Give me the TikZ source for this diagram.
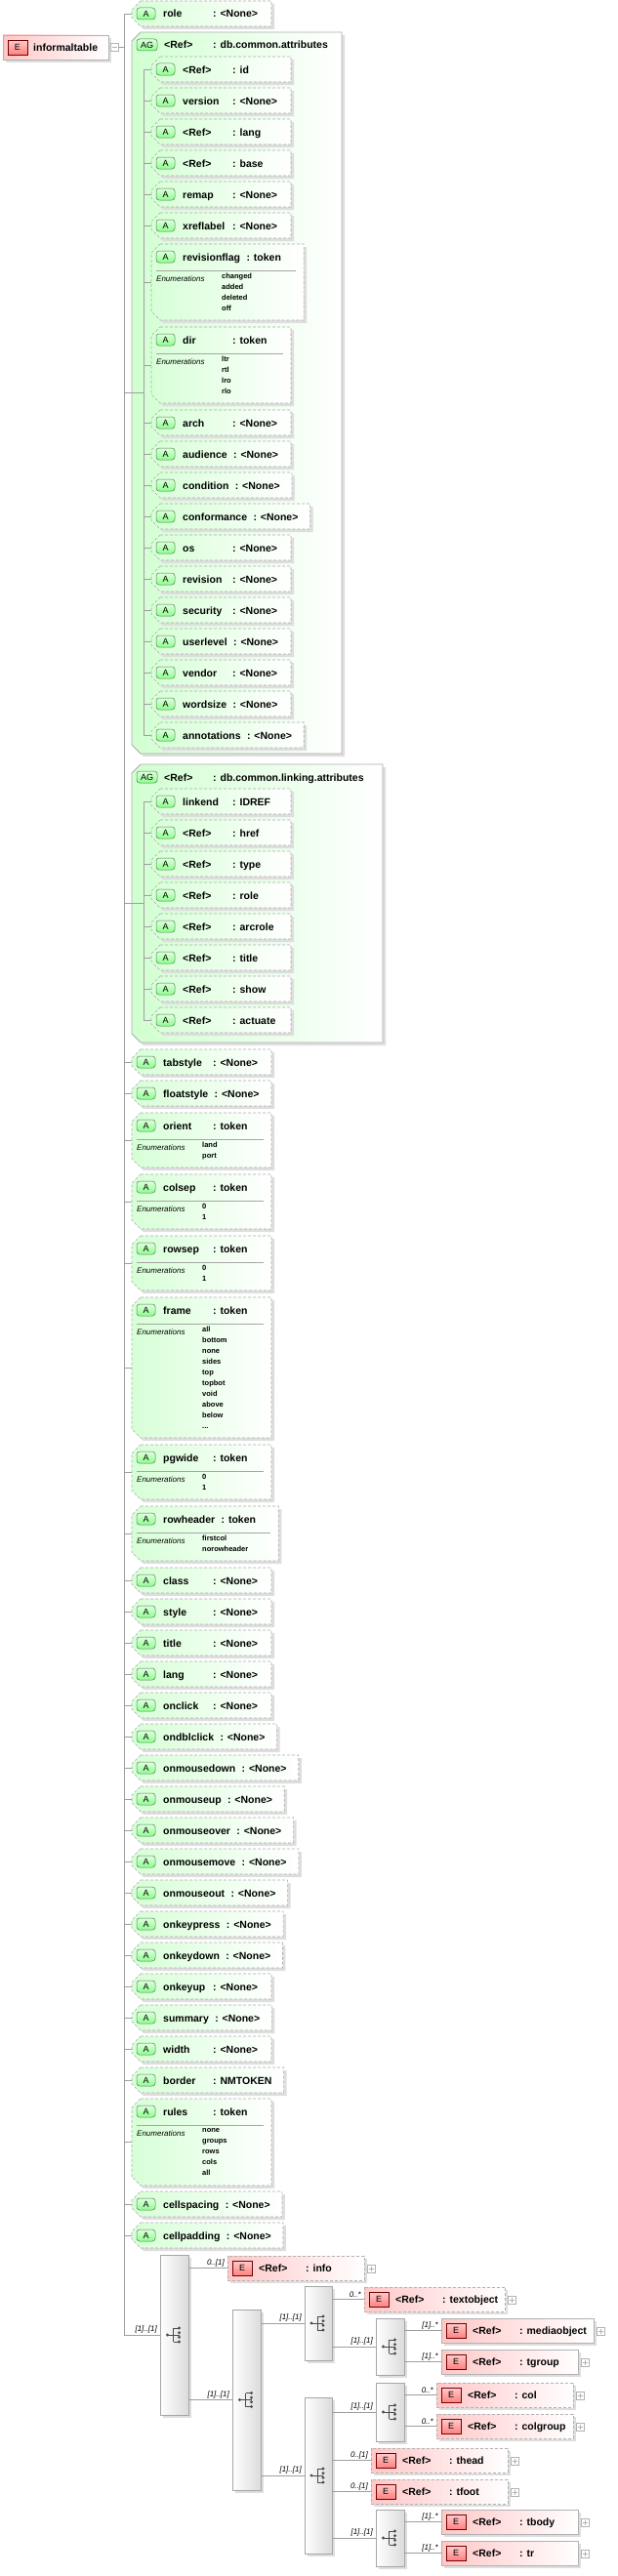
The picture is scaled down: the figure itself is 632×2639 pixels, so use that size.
\documentclass[tikz,border=0pt]{standalone}
\usepackage{fontspec}
\setmainfont{Liberation Sans}
\usetikzlibrary{calc}
\pgfdeclarelayer{bg}
\pgfsetlayers{bg,main}
\begin{document}
\newcounter{bx}
\newcommand\nf{\fontsize{10.5}{12}\selectfont\bfseries}
\newcommand\vf{\fontsize{7.5}{11}\selectfont\bfseries}
\newcommand\lf{\fontsize{8}{10}\selectfont\itshape}
\newcommand\cf{\fontsize{8}{10}\selectfont\itshape}
\tikzset{
 conn/.style={draw=gray!75, line width=0.7pt},
 shad/.style={fill=black!13},
 abox/.style={left color=green!16, right color=white, draw=gray!65, dash pattern=on 3pt off 2pt, line width=0.6pt},
 agbox/.style={left color=green!18, right color=white, draw=gray!65, line width=0.8pt},
 abadge/.style={top color=green!12, bottom color=green!45, draw=green!30!black!70, rounded corners=3pt, line width=0.5pt},
 ebox/.style={left color=red!22, right color=white, draw=gray!60, line width=0.7pt},
 eopt/.style={dash pattern=on 3pt off 2pt},
 ebadge/.style={top color=red!20, bottom color=red!50, draw=red!45!black, line width=0.5pt},
 seqbox/.style={left color=white, right color=gray!28, draw=gray!70, line width=0.6pt},
 lbl/.style={font=\cf, inner sep=1pt, anchor=south east},
 txt/.style={font=\nf, anchor=base west, inner sep=0pt},
 pm/.style={fill=white, draw=gray!60, line width=0.5pt},
}
\newcommand\chp[4]{(#1+9,#2) -- (#3,#2) -- (#3,#4) -- (#1+9,#4) -- (#1,#4-9) -- (#1,#2+9) -- cycle}
\newcommand\badge[4]{%
 \path[abadge] (#1+5,#2-6) rectangle (#1+5+#4,#2+6);
 \node[font=\fontsize{9}{9}\selectfont, inner sep=0] (b\thebx) at (#1+5+#4/2,#2) {#3};}
% x ytop name type nenum enumtext
\newcommand\attr[6]{%
 \stepcounter{bx}%
 \node[txt] (n\thebx) at (#1+32,#2+17) {#3};
 \path let \p1=(n\thebx.east) in \pgfextra{\pgfmathparse{max(#1+83,\x1+6)}\xdef\cx{\pgfmathresult}};
 \node[txt] (t\thebx) at (\cx,#2+17) {: #4};
 \ifnum#5=0 \def\ex{12}\def\hh{26}\else\def\ex{23}\pgfmathsetmacro\hh{34+11*#5}\fi
 \path let \p1=(t\thebx.east) in \pgfextra{\pgfmathparse{max(#1+143,\x1+\ex)}\xdef\rx{\pgfmathresult}};
 \begin{pgfonlayer}{bg}
 \fill[shad,shift={(3,3)}] \chp{#1}{#2}{\rx}{#2+\hh};
 \path[abox] \chp{#1}{#2}{\rx}{#2+\hh};
 \end{pgfonlayer}
 \badge{#1}{#2+13}{A}{19}
 \ifnum#5>0
  \draw[gray!70] (#1+5,#2+27) -- (\rx-8,#2+27);
  \node[font=\lf,anchor=base west,inner sep=0] (e\thebx) at (#1+5,#2+38) {Enumerations};
  \node[font=\vf,anchor=north west,align=left,inner sep=0] (v\thebx) at (#1+72,#2+30) {#6};
 \fi
 \coordinate (a\thebx) at (#1,#2+\hh/2);
 \coordinate (p\thebx) at (#1-8,#2+\hh/2);
 \draw[conn] (p\thebx) -- (a\thebx);
}
\newcommand\agroup[5]{%
 \stepcounter{bx}%
 \begin{pgfonlayer}{bg}
 \fill[shad,shift={(3,3)}] \chp{#1}{#2}{#5}{#3};
 \path[agbox] \chp{#1}{#2}{#5}{#3};
 \end{pgfonlayer}
 \badge{#1}{#2+13}{AG}{21}
 \node[txt] (n\thebx) at (#1+33,#2+17) {<Ref>};
 \node[txt] (t\thebx) at (#1+83,#2+17) {: #4};
 \coordinate (p\thebx) at (#1-8,{(#2+#3)/2});
 \coordinate (a\thebx) at (#1+12,{(#2+#3)/2});
 \draw[conn] (p\thebx) -- (a\thebx);
}
% x y type opt label parentx
\newcommand\elem[6]{%
 \stepcounter{bx}%
 \node[txt] (n\thebx) at (#1+32,#2+16) {<Ref>};
 \node[txt] (t\thebx) at (#1+80,#2+16) {: #3};
 \path let \p1=(t\thebx.east) in \pgfextra{\pgfmathparse{max(#1+140,\x1+7)}\xdef\rx{\pgfmathresult}};
 \begin{pgfonlayer}{bg}
 \fill[shad] (#1+3,#2+3) rectangle (\rx+3,#2+28);
 \ifnum#4=1 \path[ebox,eopt] (#1,#2) rectangle (\rx,#2+25);
 \else \path[ebox] (#1,#2) rectangle (\rx,#2+25);\fi
 \end{pgfonlayer}
 \path[ebadge] (#1+5,#2+5) rectangle (#1+25,#2+20);
 \node[font=\fontsize{9}{9}\selectfont, inner sep=0] (b\thebx) at (#1+15,#2+12.5) {E};
 \path[pm] (\rx+3,#2+9) rectangle (\rx+11,#2+17);
 \draw[gray!60,line width=0.5pt] (\rx+4.5,#2+13) -- (\rx+9.5,#2+13) (\rx+7,#2+10.5) -- (\rx+7,#2+15.5);
 \coordinate (a\thebx) at (#1,#2+12.5);
 \coordinate (p\thebx) at (#6,#2+12.5);
 \draw[conn] (p\thebx) -- (a\thebx);
 \node[lbl] (l\thebx) at (#1-2,#2+12) {#5};
}
% x1 y1 x2 y2 label parentx
\newcommand\seqb[6]{%
 \stepcounter{bx}%
 \pgfmathsetmacro\my{(#2+#4)/2}\pgfmathsetmacro\mx{(#1+#3)/2}%
 \fill[shad] (#1+3,#2+3) rectangle (#3+3,#4+3);
 \path[seqbox] (#1,#2) rectangle (#3,#4);
 \fill[black!70] (\mx-7,\my) circle (1.6);
 \draw[black!70,line width=0.7pt] (\mx-7,\my) -- (\mx-1,\my) (\mx-1,\my-7) -- (\mx-1,\my+7)
   (\mx-1,\my-7) -- (\mx+5,\my-7) (\mx-1,\my) -- (\mx+5,\my) (\mx-1,\my+7) -- (\mx+5,\my+7);
 \fill[black!70] (\mx+5,\my-7) circle (1.6) (\mx+5,\my-2.3) circle (1.6) (\mx+5,\my+2.3) circle (1.6) (\mx+5,\my+7) circle (1.6);
 \coordinate (a\thebx) at (#1,\my);
 \coordinate (p\thebx) at (#6,\my);
 \draw[conn] (p\thebx) -- (a\thebx);
 \node[lbl] (l\thebx) at (#1-2,\my-0.5) {#5};
}
\begin{tikzpicture}[x=1pt,y=-1pt]
\useasboundingbox (0,0) rectangle (632,2639);
% root
\fill[shad] (6,39) rectangle (114,64);
\path[ebox] (3,36) rectangle (111,61);
\path[ebadge] (8,41) rectangle (28,56);
\node[font=\fontsize{9}{9}\selectfont, inner sep=0] (rootE) at (18,48.5) {E};
\node[txt] (root) at (34,52.5) {informaltable};
\path[pm] (113,44.5) rectangle (121,52.5);
\draw[gray!60,line width=0.5pt] (114.5,48.5) -- (119.5,48.5);
\coordinate (rootr) at (121,48.5);
\coordinate (rootj) at (127,48.5);
\draw[conn] (rootr) -- (rootj);
\coordinate (mtop) at (127,14);
\coordinate (mbot) at (127,2392);
\draw[conn] (mtop) -- (mbot);
% attributes
\attr{135}{1}{role}{<None>}{0}{}
\agroup{135}{33}{772}{db.common.attributes}{350}
\coordinate (g1t) at (147,71); \coordinate (g1b) at (147,753);
\draw[conn] (g1t) -- (g1b);
\attr{155}{58}{<Ref>}{id}{0}{}
\attr{155}{90}{version}{<None>}{0}{}
\attr{155}{122}{<Ref>}{lang}{0}{}
\attr{155}{154}{<Ref>}{base}{0}{}
\attr{155}{186}{remap}{<None>}{0}{}
\attr{155}{218}{xreflabel}{<None>}{0}{}
\attr{155}{250}{revisionflag}{token}{4}{changed\\added\\deleted\\off}
\attr{155}{335}{dir}{token}{4}{ltr\\rtl\\lro\\rlo}
\attr{155}{420}{arch}{<None>}{0}{}
\attr{155}{452}{audience}{<None>}{0}{}
\attr{155}{484}{condition}{<None>}{0}{}
\attr{155}{516}{conformance}{<None>}{0}{}
\attr{155}{548}{os}{<None>}{0}{}
\attr{155}{580}{revision}{<None>}{0}{}
\attr{155}{612}{security}{<None>}{0}{}
\attr{155}{644}{userlevel}{<None>}{0}{}
\attr{155}{676}{vendor}{<None>}{0}{}
\attr{155}{708}{wordsize}{<None>}{0}{}
\attr{155}{740}{annotations}{<None>}{0}{}
\agroup{135}{783}{1068}{db.common.linking.attributes}{392}
\coordinate (g2t) at (147,821); \coordinate (g2b) at (147,1045);
\draw[conn] (g2t) -- (g2b);
\attr{155}{808}{linkend}{IDREF}{0}{}
\attr{155}{840}{<Ref>}{href}{0}{}
\attr{155}{872}{<Ref>}{type}{0}{}
\attr{155}{904}{<Ref>}{role}{0}{}
\attr{155}{936}{<Ref>}{arcrole}{0}{}
\attr{155}{968}{<Ref>}{title}{0}{}
\attr{155}{1000}{<Ref>}{show}{0}{}
\attr{155}{1032}{<Ref>}{actuate}{0}{}
\attr{135}{1075}{tabstyle}{<None>}{0}{}
\attr{135}{1107}{floatstyle}{<None>}{0}{}
\attr{135}{1140}{orient}{token}{2}{land\\port}
\attr{135}{1203}{colsep}{token}{2}{0\\1}
\attr{135}{1266}{rowsep}{token}{2}{0\\1}
\attr{135}{1329}{frame}{token}{10}{all\\bottom\\none\\sides\\top\\topbot\\void\\above\\below\\...}
\attr{135}{1480}{pgwide}{token}{2}{0\\1}
\attr{135}{1543}{rowheader}{token}{2}{firstcol\\norowheader}
\attr{135}{1606}{class}{<None>}{0}{}
\attr{135}{1638}{style}{<None>}{0}{}
\attr{135}{1670}{title}{<None>}{0}{}
\attr{135}{1702}{lang}{<None>}{0}{}
\attr{135}{1734}{onclick}{<None>}{0}{}
\attr{135}{1766}{ondblclick}{<None>}{0}{}
\attr{135}{1798}{onmousedown}{<None>}{0}{}
\attr{135}{1830}{onmouseup}{<None>}{0}{}
\attr{135}{1862}{onmouseover}{<None>}{0}{}
\attr{135}{1894}{onmousemove}{<None>}{0}{}
\attr{135}{1926}{onmouseout}{<None>}{0}{}
\attr{135}{1958}{onkeypress}{<None>}{0}{}
\attr{135}{1990}{onkeydown}{<None>}{0}{}
\attr{135}{2022}{onkeyup}{<None>}{0}{}
\attr{135}{2054}{summary}{<None>}{0}{}
\attr{135}{2086}{width}{<None>}{0}{}
\attr{135}{2118}{border}{NMTOKEN}{0}{}
\attr{135}{2150}{rules}{token}{5}{none\\groups\\rows\\cols\\all}
\attr{135}{2245}{cellspacing}{<None>}{0}{}
\attr{135}{2277}{cellpadding}{<None>}{0}{}
% content model
\seqb{164}{2310}{193}{2474}{[1]..[1]}{127}
\elem{233}{2311}{info}{1}{0..[1]}{193}
\seqb{238}{2366}{267}{2551}{[1]..[1]}{193}
\seqb{312}{2342}{340}{2418}{[1]..[1]}{267}
\elem{373}{2343}{textobject}{1}{0..*}{340}
\seqb{385}{2375}{414}{2433}{[1]..[1]}{340}
\elem{452}{2375}{mediaobject}{0}{[1]..*}{414}
\elem{452}{2407}{tgroup}{0}{[1]..*}{414}
\seqb{312}{2456}{340}{2616}{[1]..[1]}{267}
\seqb{385}{2441}{414}{2501}{[1]..[1]}{340}
\elem{447}{2441}{col}{1}{0..*}{414}
\elem{447}{2473}{colgroup}{1}{0..*}{414}
\elem{380}{2508}{thead}{1}{0..[1]}{340}
\elem{380}{2540}{tfoot}{1}{0..[1]}{340}
\seqb{385}{2571}{414}{2629}{[1]..[1]}{340}
\elem{452}{2571}{tbody}{0}{[1]..*}{414}
\elem{452}{2603}{tr}{0}{[1]..*}{414}
\end{tikzpicture}
\end{document}
